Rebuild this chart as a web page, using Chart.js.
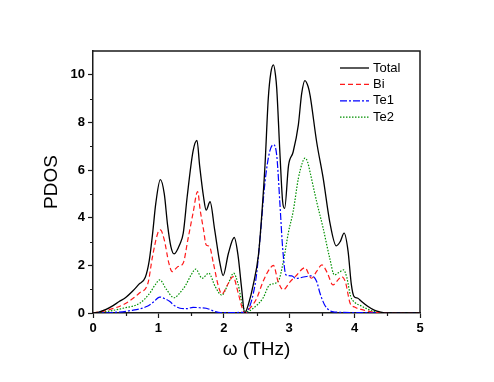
<!DOCTYPE html>
<html>
<head>
<meta charset="utf-8">
<script src="https://cdn.jsdelivr.net/npm/chart.js@4.4.1/dist/chart.umd.min.js"></script>
<style>
  body { margin: 0; background: #fff; }
  #wrap { width: 494px; height: 382px; }
</style>
</head>
<body>
<div id="wrap"><canvas id="c" width="494" height="382"></canvas></div>
<script>
// PDOS data (frequency in THz)
const totalX = [0, 0.1, 0.2, 0.3, 0.4, 0.5, 0.6, 0.7, 0.8, 0.86, 0.91, 0.96, 1.03, 1.09, 1.14, 1.19, 1.24, 1.33, 1.38, 1.44, 1.53, 1.59, 1.63, 1.69, 1.73, 1.79, 1.86, 1.94, 1.99, 2.07, 2.16, 2.22, 2.27, 2.32, 2.38, 2.45, 2.53, 2.58, 2.63, 2.68, 2.72, 2.76, 2.79, 2.81, 2.86, 2.9, 2.93, 2.99, 3.06, 3.14, 3.19, 3.24, 3.29, 3.32, 3.42, 3.52, 3.62, 3.72, 3.78, 3.84, 3.9, 3.95, 3.99, 4.05, 4.1, 4.2, 4.3, 4.4, 4.5, 5.0];
const totalY = [0, 0.05, 0.15, 0.3, 0.48, 0.65, 0.9, 1.2, 1.5, 2.2, 3.3, 4.6, 5.6, 5.0, 3.7, 2.8, 2.48, 2.9, 3.35, 4.88, 6.8, 7.25, 6.2, 4.88, 4.32, 4.67, 3.5, 2.1, 1.57, 2.5, 3.17, 2.37, 1.1, 0, 0.4, 1.18, 2.44, 4.1, 6.2, 9.0, 10.1, 10.42, 10.0, 9.4, 6.6, 4.67, 4.39, 6.2, 6.76, 7.9, 9.2, 9.76, 9.5, 9.13, 7.18, 5.65, 3.83, 2.82, 3.0, 3.35, 2.6, 1.2, 0.7, 0.62, 0.5, 0.28, 0.12, 0.04, 0, 0];

const biX = [0, 0.25, 0.51, 0.71, 0.84, 0.91, 0.99, 1.03, 1.09, 1.16, 1.21, 1.3, 1.38, 1.45, 1.53, 1.6, 1.64, 1.69, 1.73, 1.78, 1.84, 1.92, 1.97, 2.07, 2.14, 2.22, 2.29, 2.33, 2.4, 2.5, 2.6, 2.7, 2.76, 2.83, 2.91, 3.01, 3.1, 3.24, 3.34, 3.42, 3.5, 3.58, 3.67, 3.75, 3.8, 3.86, 3.93, 4.0, 4.1, 4.2, 4.35, 4.5, 5.0];
const biY = [0, 0.14, 0.42, 0.84, 1.25, 2.37, 3.35, 3.49, 3.07, 2.09, 1.74, 1.95, 2.1, 3.07, 4.2, 5.1, 4.3, 3.5, 2.86, 2.8, 2.1, 1.1, 0.8, 1.25, 1.53, 0.84, 0.14, 0, 0.2, 0.6, 1.32, 1.85, 2.0, 1.32, 0.97, 1.3, 1.55, 1.9, 1.46, 1.75, 2.02, 1.7, 1.18, 1.4, 1.53, 1.3, 0.42, 0.25, 0.15, 0.08, 0.02, 0, 0];

const te1X = [0, 0.3, 0.57, 0.83, 0.92, 1.02, 1.1, 1.17, 1.25, 1.33, 1.43, 1.53, 1.63, 1.73, 1.87, 1.95, 2.2, 2.3, 2.34, 2.37, 2.45, 2.5, 2.55, 2.63, 2.7, 2.76, 2.81, 2.86, 2.9, 2.95, 3.04, 3.1, 3.2, 3.34, 3.42, 3.47, 3.54, 3.62, 3.7, 4.0, 4.3, 4.5, 5.0];
const te1Y = [0, 0.02, 0.1, 0.28, 0.45, 0.67, 0.6, 0.49, 0.3, 0.2, 0.18, 0.24, 0.22, 0.2, 0.06, 0.02, 0.02, 0.03, 0, 0.1, 0.8, 1.6, 3.0, 5.5, 6.76, 7.07, 6.6, 4.5, 2.72, 1.6, 1.56, 1.45, 1.5, 1.56, 1.32, 0.84, 0.35, 0.1, 0.04, 0.02, 0.01, 0, 0];

const te2X = [0, 0.2, 0.46, 0.72, 0.87, 0.95, 1.02, 1.12, 1.24, 1.33, 1.42, 1.5, 1.57, 1.67, 1.77, 1.87, 1.97, 2.07, 2.15, 2.22, 2.28, 2.34, 2.45, 2.6, 2.7, 2.83, 2.91, 2.99, 3.06, 3.14, 3.2, 3.24, 3.28, 3.32, 3.42, 3.52, 3.62, 3.69, 3.76, 3.83, 3.88, 3.94, 4.0, 4.1, 4.2, 4.3, 4.45, 5.0];
const te2Y = [0, 0.06, 0.2, 0.42, 0.84, 1.18, 1.39, 1.0, 0.64, 0.85, 1.18, 1.6, 1.84, 1.46, 1.67, 1.1, 0.75, 1.25, 1.67, 1.2, 0.4, 0.05, 0.2, 0.63, 1.18, 1.32, 2.16, 3.41, 4.25, 5.65, 6.3, 6.5, 6.35, 5.9, 4.67, 3.55, 2.3, 1.6, 1.7, 1.81, 1.5, 0.7, 0.45, 0.3, 0.16, 0.06, 0, 0];

const seriesNames = ['Total', 'Bi', 'Te1', 'Te2'];
const xTicks = [0, 1, 2, 3, 4, 5];
const xMinorTicks = [0.5, 1.5, 2.5, 3.5, 4.5];
const yTicks = [0, 2, 4, 6, 8, 10];
const yMinorTicks = [1, 3, 5, 7, 9];

const FONT = "'Liberation Sans', Arial, sans-serif";
const AXIS_COLOR = '#1a1a1a';

function pts(xs, ys) {
    return xs.map((x, i) => ({ x: x, y: ys[i] }));
}

function lineSet(label, xs, ys, color, dash, width) {
    return {
        label: label,
        data: pts(xs, ys),
        borderColor: color,
        borderWidth: width,
        borderDash: dash,
        pointRadius: 0,
        fill: false,
        cubicInterpolationMode: 'monotone'
    };
}

// minor ticks, frame and in-plot legend
const decorations = {
    id: 'decorations',
    afterDraw(chart) {
        const ctx = chart.ctx;
        const area = chart.chartArea;
        const xs = chart.scales.x;
        const ys = chart.scales.y;
        ctx.save();
        ctx.strokeStyle = AXIS_COLOR;
        ctx.lineWidth = 1.2;
        ctx.beginPath();
        xMinorTicks.forEach(v => {
            const px = Math.round(xs.getPixelForValue(v)) + 0.5;
            ctx.moveTo(px, area.bottom);
            ctx.lineTo(px, area.bottom + 3);
        });
        yMinorTicks.forEach(v => {
            const py = Math.round(ys.getPixelForValue(v)) + 0.5;
            ctx.moveTo(area.left, py);
            ctx.lineTo(area.left - 3, py);
        });
        ctx.stroke();

        // top and right frame
        ctx.lineWidth = 1.5;
        ctx.beginPath();
        ctx.moveTo(area.left, area.top);
        ctx.lineTo(area.right, area.top);
        ctx.lineTo(area.right, area.bottom);
        ctx.stroke();

        // legend
        const lx = area.right - 80;
        const ly = area.top + 17;
        ctx.font = '13px ' + FONT;
        ctx.textBaseline = 'middle';
        ctx.fillStyle = '#000';
        chart.data.datasets.forEach((ds, i) => {
            const y = ly + i * 16.4;
            ctx.strokeStyle = ds.borderColor;
            ctx.lineWidth = ds.borderWidth;
            ctx.setLineDash(ds.borderDash || []);
            ctx.beginPath();
            ctx.moveTo(lx, y);
            ctx.lineTo(lx + 29, y);
            ctx.stroke();
            ctx.setLineDash([]);
            ctx.fillText(ds.label, lx + 33, y);
        });
        ctx.restore();
    }
};

new Chart(document.getElementById('c'), {
    type: 'line',
    data: {
        datasets: [
            lineSet(seriesNames[0], totalX, totalY, '#000000', [], 1.3),
            lineSet(seriesNames[1], biX, biY, '#ff1a1a', [5, 3], 1.2),
            lineSet(seriesNames[2], te1X, te1Y, '#0000ff', [7, 2, 2, 2], 1.2),
            lineSet(seriesNames[3], te2X, te2Y, '#009000', [1.5, 1.5], 1.2)
        ]
    },
    options: {
        responsive: false,
        animation: false,
        layout: { padding: { top: 51, right: 74, left: 0, bottom: 0 } },
        plugins: {
            legend: { display: false },
            tooltip: { enabled: false }
        },
        scales: {
            x: {
                type: 'linear',
                min: 0,
                max: 5,
                afterFit: (axis) => { axis.height = 69; },
                afterBuildTicks: (axis) => { axis.ticks = xTicks.map(v => ({ value: v })); },
                ticks: {
                    color: '#000',
                    padding: 3,
                    maxRotation: 0,
                    font: { family: FONT, size: 13, weight: 'bold' }
                },
                grid: {
                    drawOnChartArea: false,
                    tickLength: 5,
                    tickColor: AXIS_COLOR,
                    tickWidth: 1.2
                },
                border: { display: true, color: AXIS_COLOR, width: 1.5 },
                title: {
                    display: true,
                    text: 'ω (THz)',
                    color: '#000',
                    font: { family: FONT, size: 19 },
                    padding: { top: 0, bottom: 21 }
                }
            },
            y: {
                type: 'linear',
                min: 0,
                max: 11,
                afterFit: (axis) => { axis.width = 93; },
                afterBuildTicks: (axis) => { axis.ticks = yTicks.map(v => ({ value: v })); },
                ticks: {
                    color: '#000',
                    padding: 3,
                    font: { family: FONT, size: 13, weight: 'bold' }
                },
                grid: {
                    drawOnChartArea: false,
                    tickLength: 5,
                    tickColor: AXIS_COLOR,
                    tickWidth: 1.2
                },
                border: { display: true, color: AXIS_COLOR, width: 1.5 },
                title: {
                    display: true,
                    text: 'PDOS',
                    color: '#000',
                    font: { family: FONT, size: 19 },
                    padding: { top: 40, bottom: 0 }
                }
            }
        }
    },
    plugins: [decorations]
});
</script>
</body>
</html>
